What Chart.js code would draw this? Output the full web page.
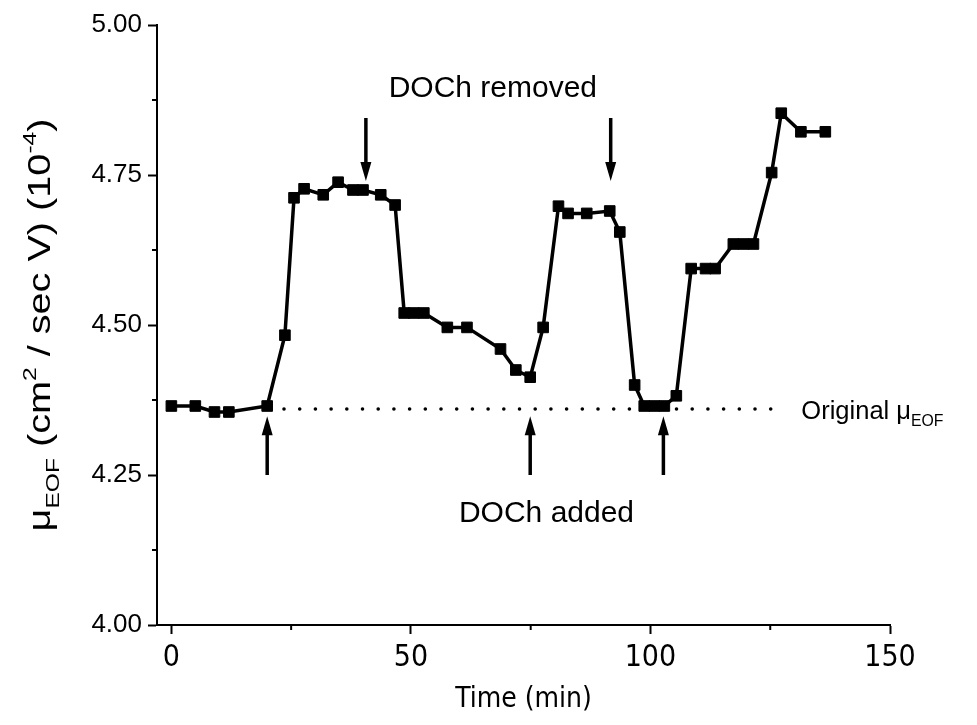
<!DOCTYPE html>
<html lang="en">
<head>
  <meta charset="UTF-8">
  <title>EOF mobility vs time</title>
  <script src="https://cdn.jsdelivr.net/npm/chart.js"></script>
  <style>
    body {
      margin: 0;
      background: #fff;
    }
    #chart {
      display: block;
    }
  </style>
</head>
<body>
  <canvas id="chart" width="977" height="725"></canvas>

  <script>
    // measured points (time in min, mobility in 10^-4 cm2/sec V)
    const timeMin = [0, 5, 9, 12, 20, 23.7, 25.6, 27.7, 31.7, 34.8, 37.9, 40, 43.7, 46.7,
      48.6, 50.6, 52.7, 57.6, 61.7, 68.7, 71.9, 74.9, 77.6, 80.8, 82.8, 86.7, 91.5, 93.6,
      96.7, 98.7, 100.8, 102.9, 105.4, 108.5, 111.5, 113.5, 117.3, 119.4, 121.5, 125.3,
      127.3, 131.4, 136.5];
    const mobility = [4.365, 4.365, 4.355, 4.355, 4.365, 4.483, 4.712, 4.727, 4.717, 4.738,
      4.725, 4.725, 4.717, 4.700, 4.520, 4.520, 4.520, 4.496, 4.496, 4.460, 4.425, 4.413,
      4.496, 4.698, 4.686, 4.686, 4.690, 4.655, 4.400, 4.365, 4.365, 4.365, 4.382, 4.594,
      4.594, 4.594, 4.635, 4.635, 4.635, 4.754, 4.853, 4.822, 4.822];

    // original mobility reference line
    const originalLevel = 4.36;
    const originalSpan = [23.5, 127.5];

    // arrows: where DOCh was added (up) and removed (down)
    const addedAt = [20, 74.9, 102.7];
    const removedAt = [40.6, 91.7];
    const addedArrowY = [4.25, 4.348];
    const removedArrowY = [4.845, 4.740];

    const xTicks = [0, 50, 100, 150];
    const xMinor = [25, 75, 125];
    const yTicks = [4.00, 4.25, 4.50, 4.75, 5.00];
    const yMinor = [4.125, 4.375, 4.625, 4.875];

    const FONT = '"Liberation Sans", Arial, sans-serif';
    const NARROW = '"Liberation Sans Narrow", "DejaVu Sans Condensed", sans-serif';

    function arrow(ctx, px, y0, y1) {
      // shaft from y0 to head tip y1 (pixels)
      const dir = y1 < y0 ? -1 : 1;
      const headLen = 19, headW = 5.5;
      ctx.beginPath();
      ctx.moveTo(px, y0);
      ctx.lineTo(px, y1 - dir * headLen + dir * 2);
      ctx.lineWidth = 3.5;
      ctx.stroke();
      ctx.beginPath();
      ctx.moveTo(px, y1);
      ctx.lineTo(px - headW, y1 - dir * headLen);
      ctx.lineTo(px + headW, y1 - dir * headLen);
      ctx.closePath();
      ctx.fill();
    }

    // draws pieces of text with sub/superscripts along the baseline
    function richText(ctx, pieces, size, align) {
      let total = 0;
      pieces.forEach(p => {
        ctx.font = (p.s ? size * 0.62 : size) + 'px ' + FONT;
        total += ctx.measureText(p.t).width;
      });
      let cx = align === 'center' ? -total / 2 : 0;
      pieces.forEach(p => {
        ctx.font = (p.s ? size * 0.62 : size) + 'px ' + FONT;
        const dy = p.s === 'sub' ? size * 0.28 : p.s === 'sup' ? -size * 0.45 : 0;
        ctx.fillText(p.t, cx, dy);
        cx += ctx.measureText(p.t).width;
      });
    }

    const overlay = {
      id: 'overlay',
      afterDraw(chart) {
        const { ctx, scales: { x, y } } = chart;
        ctx.save();
        ctx.fillStyle = '#000';
        ctx.strokeStyle = '#000';

        // minor ticks
        ctx.lineWidth = 2;
        xMinor.forEach(v => {
          const px = x.getPixelForValue(v);
          ctx.beginPath();
          ctx.moveTo(px, y.bottom);
          ctx.lineTo(px, y.bottom + 5);
          ctx.stroke();
        });
        yMinor.forEach(v => {
          const py = y.getPixelForValue(v);
          ctx.beginPath();
          ctx.moveTo(x.left, py);
          ctx.lineTo(x.left - 5, py);
          ctx.stroke();
        });

        // arrows
        addedAt.forEach(v => arrow(ctx, x.getPixelForValue(v),
          y.getPixelForValue(addedArrowY[0]), y.getPixelForValue(addedArrowY[1])));
        removedAt.forEach(v => arrow(ctx, x.getPixelForValue(v),
          y.getPixelForValue(removedArrowY[0]), y.getPixelForValue(removedArrowY[1])));

        // annotations
        ctx.textBaseline = 'alphabetic';
        ctx.textAlign = 'center';
        ctx.font = '30px ' + FONT;
        ctx.fillText('DOCh removed', x.getPixelForValue(67.1), y.getPixelForValue(4.88));
        ctx.fillText('DOCh added', x.getPixelForValue(78.3), y.getPixelForValue(4.172));

        ctx.textAlign = 'left';
        ctx.save();
        ctx.translate(x.getPixelForValue(131.5), y.getPixelForValue(4.343));
        richText(ctx, [{ t: 'Original ' }, { t: 'μ' }, { t: 'EOF', s: 'sub' }], 25.5, 'left');
        ctx.restore();

        // axis titles
        ctx.textAlign = 'center';
        ctx.font = '28px ' + NARROW;
        ctx.fillText('Time (min)', (x.left + x.right) / 2, 707);

        // y title is stretched along its length in the original
        ctx.textAlign = 'left';
        ctx.save();
        ctx.translate(50, (y.top + y.bottom) / 2);
        ctx.rotate(-Math.PI / 2);
        ctx.scale(1.3, 1);
        richText(ctx, [
          { t: 'μ' }, { t: 'EOF', s: 'sub' }, { t: ' (cm' }, { t: '2', s: 'sup' },
          { t: ' / sec V) (10' }, { t: '-4', s: 'sup' }, { t: ')' }
        ], 30.5, 'center');
        ctx.restore();

        ctx.restore();
      }
    };

    const ctx = document.getElementById('chart').getContext('2d');
    new Chart(ctx, {
      type: 'line',
      data: {
        datasets: [
          {
            data: timeMin.map((t, i) => ({ x: t, y: mobility[i] })),
            borderColor: '#000',
            backgroundColor: '#000',
            borderWidth: 3.5,
            pointStyle: 'rect',
            pointRadius: 7.5,
            pointBorderWidth: 1,
            tension: 0
          },
          {
            data: originalSpan.map(t => ({ x: t, y: originalLevel })),
            borderColor: '#000',
            borderWidth: 3.5,
            borderDash: [0.1, 15.6],
            borderCapStyle: 'round',
            pointRadius: 0
          }
        ]
      },
      options: {
        responsive: false,
        animation: false,
        events: [],
        layout: { padding: { top: 25, right: 87, left: 0, bottom: 0 } },
        plugins: {
          legend: { display: false },
          tooltip: { enabled: false }
        },
        scales: {
          x: {
            type: 'linear',
            min: -3,
            max: 150,
            afterBuildTicks: s => { s.ticks = xTicks.map(v => ({ value: v })); },
            afterFit: s => { s.height = 100; },
            grid: {
              display: true, drawOnChartArea: false, drawTicks: true,
              tickLength: 9, tickWidth: 2, tickColor: '#000'
            },
            border: { display: true, color: '#000', width: 2 },
            ticks: {
              color: '#000',
              padding: 6,
              maxRotation: 0,
              font: { family: NARROW, size: 30 }
            }
          },
          y: {
            min: 4,
            max: 5,
            afterBuildTicks: s => { s.ticks = yTicks.map(v => ({ value: v })); },
            afterFit: s => { s.width = 157; },
            grid: {
              display: true, drawOnChartArea: false, drawTicks: true,
              tickLength: 9, tickWidth: 2, tickColor: '#000'
            },
            border: { display: true, color: '#000', width: 2 },
            ticks: {
              color: '#000',
              padding: 6,
              font: { family: FONT, size: 26 },
              callback: v => v.toFixed(2)
            }
          }
        }
      },
      plugins: [overlay]
    });
  </script>
</body>
</html>
